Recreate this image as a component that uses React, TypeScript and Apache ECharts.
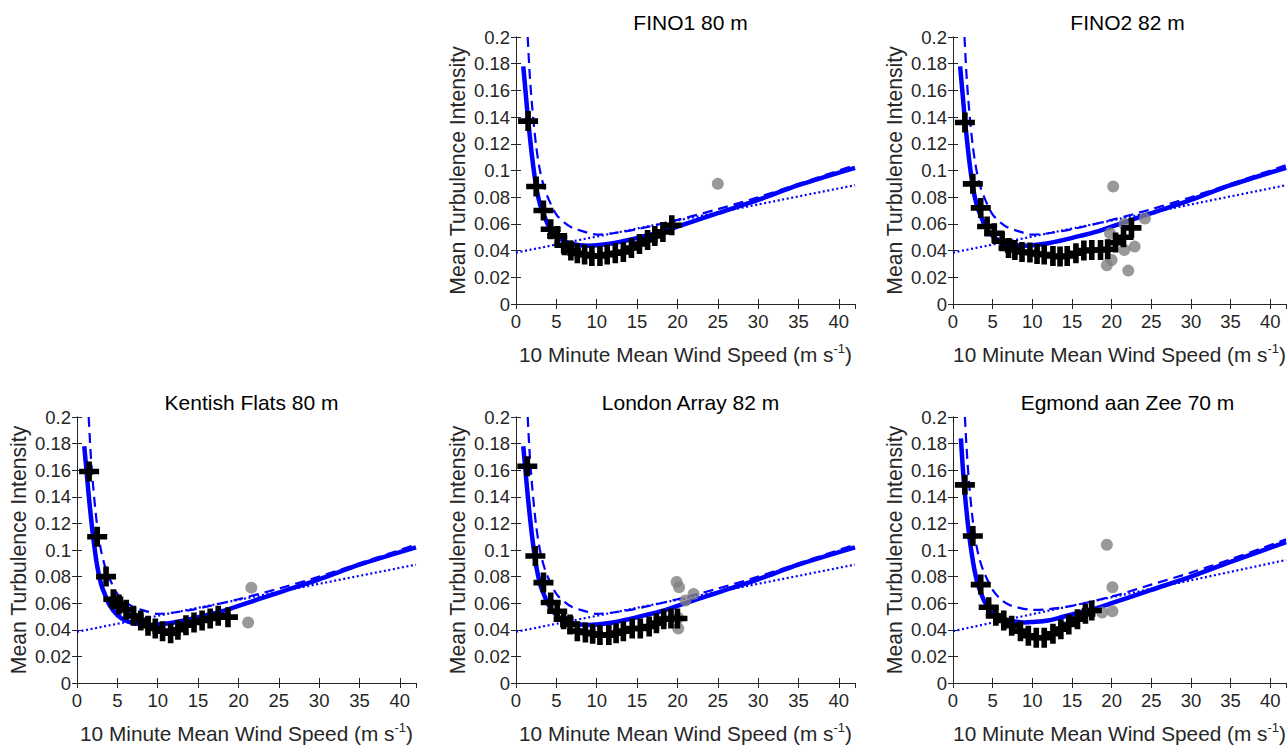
import React, { useEffect, useRef } from "react";
import * as echarts from "echarts";

const FONT = 'Arial, "Liberation Sans", Helvetica, sans-serif';
const AX = "#262626";

const panelTitles = ["FINO1 80 m", "FINO2 82 m", "Kentish Flats 80 m", "London Array 82 m", "Egmond aan Zee 70 m"];

// model curves (shared by the first four panels)
const solidX = [0.9, 1.2, 1.5, 2, 2.5, 3, 3.5, 4, 5, 6, 7, 8, 9, 10, 12, 14, 16, 18, 20, 25, 30, 35, 42];
const solidTI = [0.178, 0.158, 0.138, 0.110, 0.088, 0.074, 0.066, 0.059, 0.051, 0.047, 0.045, 0.044, 0.0437, 0.044, 0.0455, 0.048, 0.051, 0.054, 0.058, 0.068, 0.078, 0.089, 0.102];
const dashX = [1.45, 1.7, 2, 2.5, 3, 3.5, 4, 5, 6, 7, 8, 10, 12, 15, 20, 25, 30, 35, 42];
const dashTI = [0.2, 0.172, 0.148, 0.118, 0.099, 0.087, 0.079, 0.067, 0.061, 0.057, 0.055, 0.052, 0.053, 0.056, 0.063, 0.071, 0.080, 0.090, 0.104];
const dotX = [0, 42];
const dotTI = [0.0385, 0.089];

// Egmond aan Zee model curves
const egSolidX = [1.0, 1.2, 1.5, 2, 2.5, 3, 3.5, 4, 5, 6, 7, 8, 9, 10, 12, 14, 16, 18, 20, 25, 30, 35, 42];
const egSolidTI = [0.184, 0.165, 0.142, 0.113, 0.092, 0.077, 0.068, 0.061, 0.053, 0.049, 0.047, 0.046, 0.0455, 0.0458, 0.047, 0.050, 0.053, 0.056, 0.060, 0.070, 0.080, 0.091, 0.106];
const egDashX = [1.5, 1.7, 2, 2.5, 3, 3.5, 4, 5, 6, 7, 8, 10, 12, 15, 20, 25, 30, 35, 42];
const egDashTI = [0.2, 0.178, 0.152, 0.122, 0.102, 0.090, 0.082, 0.070, 0.063, 0.059, 0.057, 0.055, 0.0555, 0.058, 0.065, 0.074, 0.083, 0.093, 0.108];
const egDotTI = [0.039, 0.0925];

// binned observations (+)
const fino1BinX = [1.5, 2.5, 3.4, 4.3, 5.1, 6.0, 6.8, 7.6, 8.5, 9.4, 10.4, 11.3, 12.3, 13.3, 14.3, 15.3, 16.3, 17.2, 18.2, 19.3];
const fino1BinTI = [0.137, 0.088, 0.070, 0.056, 0.051, 0.044, 0.040, 0.038, 0.037, 0.036, 0.036, 0.037, 0.038, 0.039, 0.042, 0.045, 0.048, 0.051, 0.054, 0.059];
const fino1GrayX = [25.0];
const fino1GrayTI = [0.090];

const fino2BinX = [1.5, 2.5, 3.5, 4.3, 5.2, 6.2, 7.0, 7.8, 8.7, 9.7, 10.6, 11.5, 12.6, 13.5, 14.4, 15.5, 16.5, 17.5, 18.6, 19.5, 20.5, 21.5, 22.5];
const fino2BinTI = [0.136, 0.090, 0.072, 0.058, 0.053, 0.047, 0.042, 0.0405, 0.039, 0.0385, 0.0375, 0.037, 0.036, 0.0355, 0.036, 0.038, 0.040, 0.0405, 0.0405, 0.041, 0.046, 0.050, 0.057];
const fino2GrayX = [20.2, 24.2, 19.4, 20.0, 22.1, 21.6, 22.9, 19.8, 21.6];
const fino2GrayTI = [0.088, 0.064, 0.029, 0.033, 0.025, 0.0405, 0.043, 0.053, 0.060];

const kentBinX = [1.5, 2.5, 3.6, 4.5, 5.2, 6.1, 7.0, 7.9, 8.8, 9.7, 10.6, 11.6, 12.5, 13.5, 14.5, 15.5, 16.5, 17.5, 18.7];
const kentBinTI = [0.159, 0.110, 0.080, 0.063, 0.059, 0.055, 0.0505, 0.047, 0.043, 0.041, 0.039, 0.0375, 0.040, 0.0435, 0.0455, 0.047, 0.0485, 0.0505, 0.0495];
const kentGrayX = [21.6, 21.2];
const kentGrayTI = [0.0717, 0.0455];

const londBinX = [1.4, 2.4, 3.4, 4.3, 5.1, 5.9, 6.7, 7.6, 8.6, 9.5, 10.4, 11.5, 12.4, 13.3, 14.4, 15.4, 16.5, 17.4, 18.3, 19.2, 20.0];
const londBinTI = [0.163, 0.0955, 0.0755, 0.0605, 0.054, 0.048, 0.044, 0.039, 0.038, 0.037, 0.036, 0.036, 0.0375, 0.039, 0.041, 0.041, 0.0425, 0.045, 0.048, 0.0485, 0.0485];
const londGrayX = [19.9, 20.2, 21.0, 22.0, 20.1, 20.1];
const londGrayTI = [0.076, 0.072, 0.062, 0.067, 0.049, 0.041];

const egBinX = [1.5, 2.5, 3.5, 4.5, 5.4, 6.4, 7.4, 8.5, 9.5, 10.5, 11.5, 12.6, 13.6, 14.6, 15.7, 16.7, 17.5];
const egBinTI = [0.149, 0.1105, 0.074, 0.057, 0.0505, 0.047, 0.043, 0.039, 0.0355, 0.034, 0.034, 0.037, 0.0405, 0.044, 0.048, 0.052, 0.0545];
const egGrayX = [19.4, 20.1, 18.8, 20.1];
const egGrayTI = [0.104, 0.072, 0.053, 0.054];

const xTickStep = 5;
const yTickStep = 0.02;

const zip = (xs: number[], ys: number[]) => xs.map((x, i) => [x, ys[i]]);

const PLUS = "path://M3.6,0H6.4V3.6H10V6.4H6.4V10H3.6V6.4H0V3.6H3.6Z";

const layouts = [
  { left: 516, top: 37 },
  { left: 953, top: 37 },
  { left: 77, top: 417 },
  { left: 516, top: 417 },
  { left: 953, top: 417 },
];
const W = 339;
const H = 267;

function buildOption() {
  const panels = [
    { solid: zip(solidX, solidTI), dash: zip(dashX, dashTI), dot: zip(dotX, dotTI), bins: zip(fino1BinX, fino1BinTI), gray: zip(fino1GrayX, fino1GrayTI) },
    { solid: zip(solidX, solidTI), dash: zip(dashX, dashTI), dot: zip(dotX, dotTI), bins: zip(fino2BinX, fino2BinTI), gray: zip(fino2GrayX, fino2GrayTI) },
    { solid: zip(solidX, solidTI), dash: zip(dashX, dashTI), dot: zip(dotX, dotTI), bins: zip(kentBinX, kentBinTI), gray: zip(kentGrayX, kentGrayTI) },
    { solid: zip(solidX, solidTI), dash: zip(dashX, dashTI), dot: zip(dotX, dotTI), bins: zip(londBinX, londBinTI), gray: zip(londGrayX, londGrayTI) },
    { solid: zip(egSolidX, egSolidTI), dash: zip(egDashX, egDashTI), dot: zip(dotX, egDotTI), bins: zip(egBinX, egBinTI), gray: zip(egGrayX, egGrayTI) },
  ];

  const grid: any[] = [];
  const xAxis: any[] = [];
  const yAxis: any[] = [];
  const series: any[] = [];
  const title: any[] = [];

  const axisLine = { show: true, lineStyle: { color: AX, width: 1 } };
  const tick = { show: true, inside: true, length: 5, lineStyle: { color: AX, width: 1 } };

  panels.forEach((p, i) => {
    const L = layouts[i];
    grid.push({ left: L.left, top: L.top, width: W, height: H, containLabel: false });
    title.push({
      text: panelTitles[i],
      left: L.left + W / 2,
      top: L.top - 30,
      textAlign: "center",
      textStyle: { fontSize: 21, fontWeight: "normal", color: "#000", fontFamily: FONT },
    });
    xAxis.push({
      type: "value", gridIndex: i, min: 0, max: 42, interval: xTickStep, position: "bottom",
      axisLine, axisTick: tick, splitLine: { show: false },
      axisLabel: { fontSize: 18.5, color: AX, fontFamily: FONT, margin: 8, showMaxLabel: false },
      name: "10 Minute Mean Wind Speed (m s{sup|-1})",
      nameLocation: "middle", nameGap: 38,
      nameTextStyle: {
        fontSize: 20.8, color: AX, fontFamily: FONT, lineHeight: 24,
        rich: { sup: { fontSize: 13, color: AX, fontFamily: FONT, verticalAlign: "top", lineHeight: 24 } },
      },
    });
    xAxis.push({
      type: "value", gridIndex: i, min: 0, max: 42, interval: xTickStep, position: "top",
      axisLine, axisTick: tick, axisLabel: { show: false }, splitLine: { show: false },
    });
    yAxis.push({
      type: "value", gridIndex: i, min: 0, max: 0.2, interval: yTickStep, position: "left",
      axisLine, axisTick: tick, splitLine: { show: false },
      axisLabel: {
        fontSize: 18.5, color: AX, fontFamily: FONT, margin: 6,
        formatter: (v: number) => String(Math.round(v * 100) / 100),
      },
      name: "Mean Turbulence Intensity", nameLocation: "middle", nameGap: 48,
      nameTextStyle: { fontSize: 21.2, color: AX, fontFamily: FONT },
    });
    yAxis.push({
      type: "value", gridIndex: i, min: 0, max: 0.2, interval: yTickStep, position: "right",
      axisLine, axisTick: tick, axisLabel: { show: false }, splitLine: { show: false },
    });
    const xi = i * 2;
    const yi = i * 2;
    series.push({
      type: "line", xAxisIndex: xi, yAxisIndex: yi, data: p.dot, showSymbol: false, silent: true,
      lineStyle: { color: "#0000ff", width: 2.2, type: [2, 2.6] }, z: 2,
    });
    series.push({
      type: "line", xAxisIndex: xi, yAxisIndex: yi, data: p.dash, showSymbol: false, silent: true, smooth: 0.3,
      lineStyle: { color: "#0000ff", width: 2.2, type: [10, 6] }, z: 2,
    });
    series.push({
      type: "line", xAxisIndex: xi, yAxisIndex: yi, data: p.solid, showSymbol: false, silent: true, smooth: 0.3,
      lineStyle: { color: "#0000ff", width: 4.5 }, z: 3,
    });
    series.push({
      type: "scatter", xAxisIndex: xi, yAxisIndex: yi, data: p.gray, symbol: "circle", symbolSize: 12, silent: true,
      itemStyle: { color: "#808080" }, z: 4,
    });
    series.push({
      type: "scatter", xAxisIndex: xi, yAxisIndex: yi, data: p.bins, symbol: PLUS, symbolSize: 20, silent: true,
      itemStyle: { color: "#000", opacity: 1 }, z: 5,
    });
  });

  return {
    animation: false,
    backgroundColor: "#fff",
    textStyle: { fontFamily: FONT },
    title, grid, xAxis, yAxis, series,
  };
}

export default function App() {
  const ref = useRef<HTMLDivElement>(null);
  useEffect(() => {
    if (!ref.current) return;
    const chart = echarts.init(ref.current, null, { renderer: "svg" });
    chart.setOption(buildOption() as any);
    return () => chart.dispose();
  }, []);
  return (
    <div
      ref={ref}
      style={{ position: "absolute", left: 0, top: 0, width: 1288, height: 746, overflow: "hidden" }}
    />
  );
}
